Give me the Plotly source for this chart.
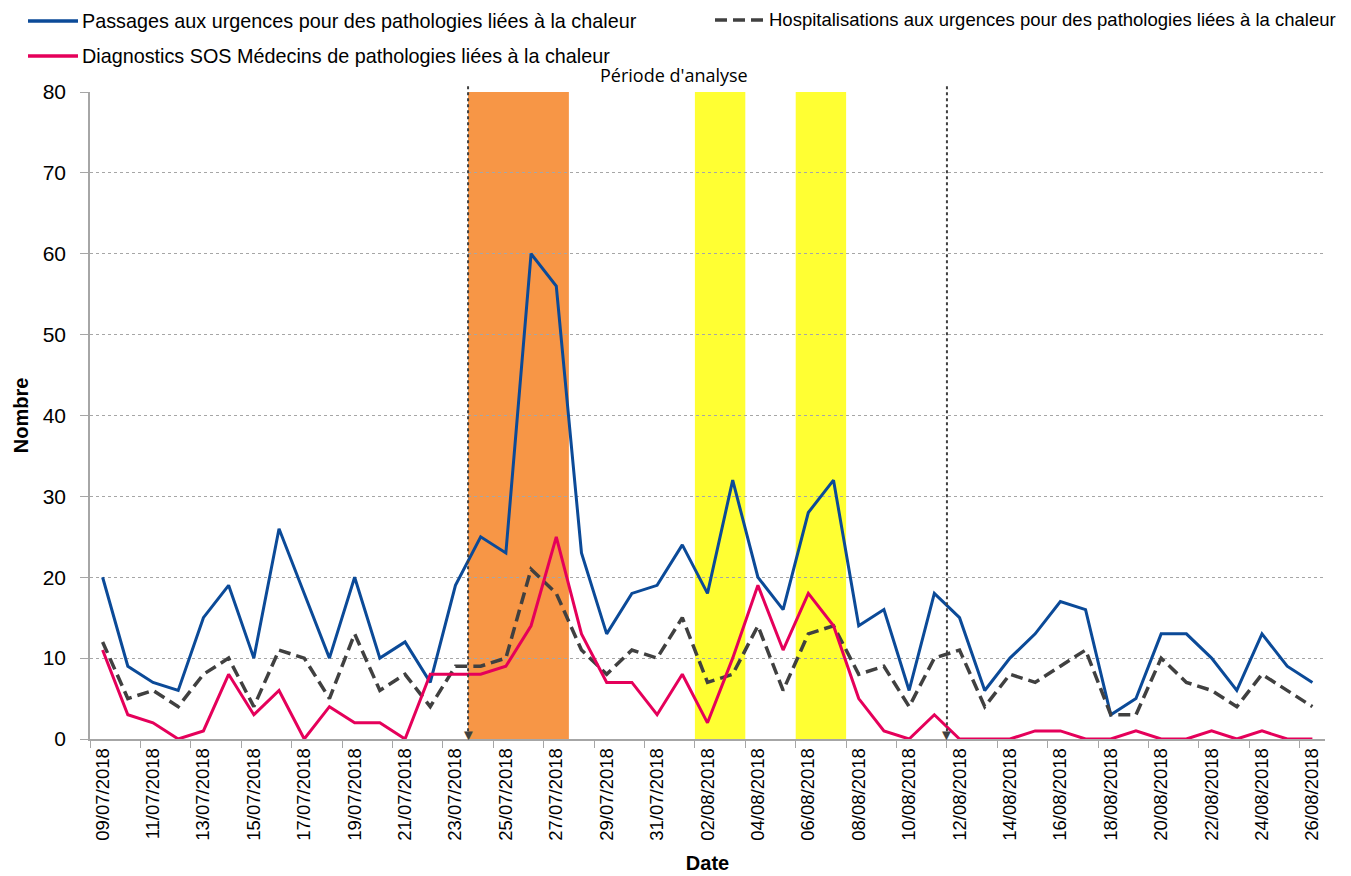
import plotly.graph_objects as go
import datetime as dt

start = dt.date(2018, 7, 9)
dates = [(start + dt.timedelta(days=i)).strftime("%d/%m/%Y") for i in range(49)]

passages = [20, 9, 7, 6, 15, 19, 10, 26, 18, 10, 20, 10, 12, 7, 19, 25, 23, 60, 56, 23,
            13, 18, 19, 24, 18, 32, 20, 16, 28, 32, 14, 16, 6, 18, 15, 6, 10, 13, 17, 16,
            3, 5, 13, 13, 10, 6, 13, 9, 7]
hospit = [12, 5, 6, 4, 8, 10, 4, 11, 10, 5, 13, 6, 8, 4, 9, 9, 10, 21, 18, 11,
          8, 11, 10, 15, 7, 8, 14, 6, 13, 14, 8, 9, 4, 10, 11, 4, 8, 7, 9, 11,
          3, 3, 10, 7, 6, 4, 8, 6, 4]
sos = [11, 3, 2, 0, 1, 8, 3, 6, 0, 4, 2, 2, 0, 8, 8, 8, 9, 14, 25, 13,
       7, 7, 3, 8, 2, 10, 19, 11, 18, 14, 5, 1, 0, 3, 0, 0, 0, 1, 1, 0,
       0, 1, 0, 0, 1, 0, 1, 0, 0]

names = ["Passages aux urgences pour des pathologies liées à la chaleur",
         "Hospitalisations aux urgences pour des pathologies liées à la chaleur",
         "Diagnostics SOS Médecins de pathologies liées à la chaleur"]
colors = ["#0B4A98", "#404040", "#E5005A"]
dashes = ["solid", "12px,6px", "solid"]
widths = [3, 3.5, 3]

# highlighted periods (first, last date) and analysis period bounds
orange_period = ("24/07/2018", "27/07/2018")
yellow_periods = [("02/08/2018", "03/08/2018"), ("06/08/2018", "07/08/2018")]
analysis_bounds = ("24/07/2018", "12/08/2018")  # line drawn at left edge of these days

FONT = "Liberation Sans, Arial, sans-serif"
OFF = 8  # page body margin
W, H = 1351 - OFF, 876 - OFF
ML, MR, MT, MB = 90 - OFF, 26, 92 - OFF, 137
PW, PH = W - ML - MR, H - MT - MB

def px(xp):  # page x -> paper
    return (xp - OFF - ML) / PW

def py(yp):  # page y -> paper
    return (H - MB - (yp - OFF)) / PH

fig = go.Figure()
for name, vals, c, d, w in zip(names, [passages, hospit, sos], colors, dashes, widths):
    fig.add_trace(go.Scatter(x=dates, y=vals, mode="lines", name=name, showlegend=False,
                             line=dict(color=c, width=w, dash=d)))

shapes = []
annotations = []

def idx(d):
    return dates.index(d)

a, b = orange_period
shapes.append(dict(type="rect", xref="x", yref="y", x0=idx(a) - 0.5, x1=idx(b) + 0.5,
                   y0=0, y1=80, fillcolor="#F79646", line=dict(width=0), layer="below"))
for a, b in yellow_periods:
    shapes.append(dict(type="rect", xref="x", yref="y", x0=idx(a) - 0.5, x1=idx(b) + 0.5,
                       y0=0, y1=80, fillcolor="#FFFF33", line=dict(width=0), layer="below"))
for d in analysis_bounds:
    xv = idx(d) - 0.5
    shapes.append(dict(type="line", xref="x", yref="paper", x0=xv, x1=xv, y0=0.012, y1=py(84),
                       line=dict(color="#404040", width=2, dash="dot")))
    annotations.append(dict(x=xv, y=0, xref="x", yref="y", text="▼", showarrow=False,
                            yanchor="bottom", xanchor="center", yshift=-6,
                            font=dict(size=15, color="#404040")))

annotations.append(dict(x=px(674), y=py(75), xref="paper", yref="paper",
                        text="Période d'analyse", showarrow=False,
                        xanchor="center", yanchor="middle",
                        font=dict(family="Open Sans, sans-serif", size=18, color="#000000")))

# manual legend (line sample + label)
legend_pos = [(28, 21), (715, 20), (28, 56)]
legend_sizes = [19.8, 18.5, 19.8]
for name, c, d, (lx, ly), fs in zip(names, colors, dashes, legend_pos, legend_sizes):
    shapes.append(dict(type="line", xref="paper", yref="paper",
                       x0=px(lx), x1=px(lx + 50), y0=py(ly), y1=py(ly),
                       line=dict(color=c, width=3.5, dash=d)))
    annotations.append(dict(x=px(lx + 52), y=py(ly), xref="paper", yref="paper",
                            text=name, showarrow=False, xanchor="left", yanchor="middle",
                            font=dict(family=FONT, size=fs, color="#000000")))

fig.update_layout(
    width=W, height=H,
    margin=dict(l=ML, r=MR, t=MT, b=MB, autoexpand=False),
    paper_bgcolor="white", plot_bgcolor="white",
    font=dict(family=FONT, color="#000000"),
    shapes=shapes, annotations=annotations,
    showlegend=False,
    xaxis=dict(type="category", range=[-0.5, 48.5], tickmode="linear", tick0=0, dtick=2,
               tickson="boundaries", ticks="outside", ticklen=7, tickcolor="#A6A6A6",
               tickangle=-90, tickfont=dict(family=FONT, size=18.5),
               showline=True, linecolor="#A6A6A6", linewidth=1.5, showgrid=False,
               title=dict(text="<b>Date</b>", font=dict(family=FONT, size=20), standoff=16),
               fixedrange=True),
    yaxis=dict(range=[0, 80], tickmode="linear", tick0=0, dtick=10,
               ticks="outside", ticklen=8, tickcolor="#A6A6A6",
               tickfont=dict(family=FONT, size=21), ticklabelstandoff=10,
               showline=True, linecolor="#A6A6A6", linewidth=1.5,
               showgrid=True, gridcolor="#A6A6A6", griddash="dot", gridwidth=1,
               zeroline=False,
               title=dict(text="<b>Nombre</b>", font=dict(family=FONT, size=20), standoff=9)),
)

fig.write_html("out.html")
